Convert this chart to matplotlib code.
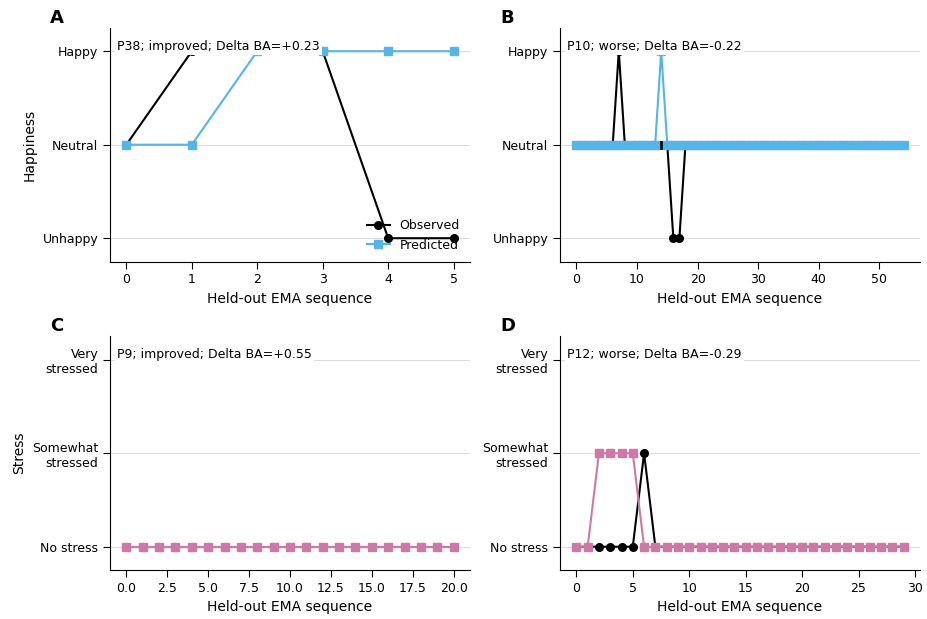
import matplotlib
matplotlib.use("Agg")
import matplotlib.pyplot as plt

# colours
OBS_COLOR = "black"
HAPPY_COLOR = "#56B4E9"
STRESS_COLOR = "#CC79A7"

# panel A: P38 happiness (0=Unhappy, 1=Neutral, 2=Happy)
a_obs = [1, 2, 2, 2, 0, 0]
a_pred = [1, 1, 2, 2, 2, 2]

# panel B: P10 happiness, 55 held-out samples
b_obs = [1] * 55
b_obs[7] = 2
b_obs[16] = 0
b_obs[17] = 0
b_pred = [1] * 55
b_pred[14] = 2

# panel C: P9 stress (0=No stress, 1=Somewhat, 2=Very)
c_obs = [0] * 21
c_pred = [0] * 21

# panel D: P12 stress
d_obs = [0, 0, 0, 0, 0, 0, 1] + [0] * 23
d_pred = [0, 0, 1, 1, 1, 1] + [0] * 24

happy_labels = ["Unhappy", "Neutral", "Happy"]
stress_labels = ["No stress", "Somewhat\nstressed", "Very\nstressed"]

panels = [
    ("A", a_obs, a_pred, HAPPY_COLOR, happy_labels, "P38; improved; Delta BA=+0.23"),
    ("B", b_obs, b_pred, HAPPY_COLOR, happy_labels, "P10; worse; Delta BA=-0.22"),
    ("C", c_obs, c_pred, STRESS_COLOR, stress_labels, "P9; improved; Delta BA=+0.55"),
    ("D", d_obs, d_pred, STRESS_COLOR, stress_labels, "P12; worse; Delta BA=-0.29"),
]

fig, axes = plt.subplots(2, 2, figsize=(9.28, 6.19), dpi=100)
fig.subplots_adjust(left=0.1185, right=0.9914, top=0.955, bottom=0.079,
                    wspace=0.25, hspace=0.32)

for ax, (letter, obs, pred, col, ylabels, note) in zip(axes.flat, panels):
    x = list(range(len(obs)))
    ax.plot(x, obs, "-o", color=OBS_COLOR, lw=1.5, ms=5.5, label="Observed", zorder=3)
    ax.plot(x, pred, "-s", color=col, lw=1.5, ms=5.5, label="Predicted", zorder=4)
    ax.set_ylim(-0.25, 2.25)
    ax.set_yticks([0, 1, 2])
    ax.set_yticklabels(ylabels, fontsize=9)
    ax.tick_params(axis="x", labelsize=9)
    ax.tick_params(direction="out", length=5)
    ax.grid(axis="y", color="#dddddd", lw=0.8)
    ax.set_axisbelow(True)
    ax.spines["top"].set_visible(False)
    ax.spines["right"].set_visible(False)
    ax.set_xlabel("Held-out EMA sequence", fontsize=10)
    ax.text(0.02, 0.95, note, transform=ax.transAxes, fontsize=9, va="top",
            ha="left", zorder=5,
            bbox=dict(facecolor="white", edgecolor="none", pad=1.5))
    pos = ax.get_position()
    fig.text(pos.x0 - 0.0645, pos.y1 + 0.016, letter, fontsize=13,
             fontweight="bold", ha="left", va="center")

axes[0, 0].set_ylabel("Happiness", fontsize=10)
axes[1, 0].set_ylabel("Stress", fontsize=10)
axes[0, 0].legend(loc="lower right", frameon=False, fontsize=9,
                  borderaxespad=0.4, handlelength=1.8, labelspacing=0.5)

fig.savefig("out.png", dpi=100)
